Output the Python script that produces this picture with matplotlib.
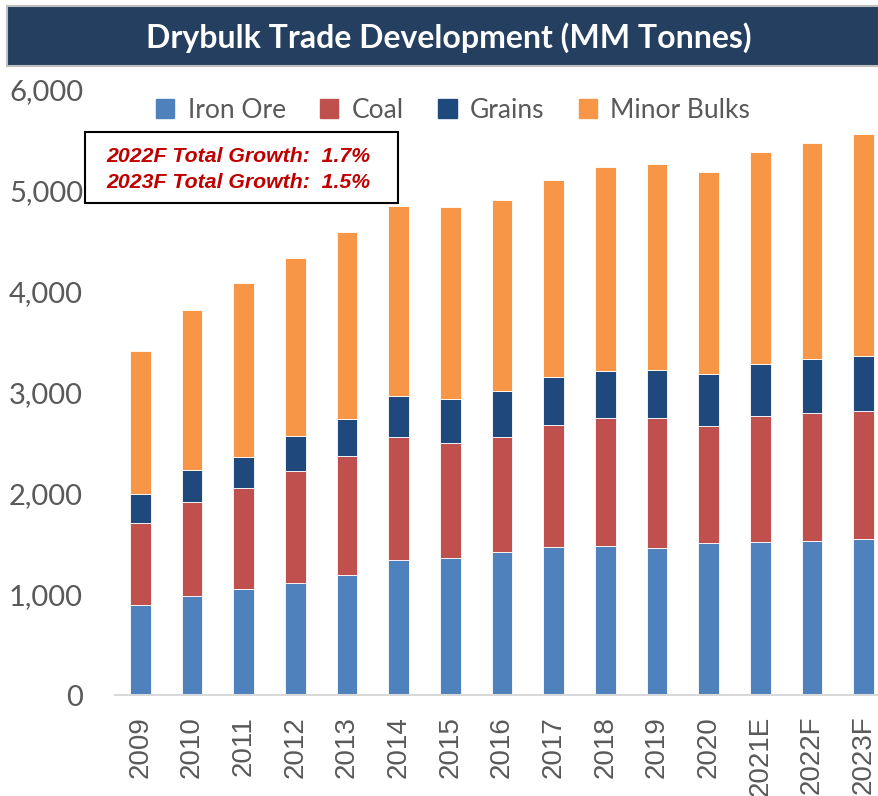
import matplotlib
matplotlib.use("Agg")
import matplotlib.pyplot as plt
from matplotlib.patches import Rectangle
import numpy as np

years = ['2009', '2010', '2011', '2012', '2013', '2014', '2015', '2016',
         '2017', '2018', '2019', '2020', '2021E', '2022F', '2023F']
iron_ore = [890, 985, 1048, 1108, 1187, 1342, 1362, 1416, 1471, 1475, 1455, 1505, 1518, 1531, 1545]
coal = [813, 933, 1002, 1111, 1184, 1214, 1141, 1147, 1211, 1269, 1289, 1167, 1247, 1264, 1272]
grains = [294, 314, 311, 347, 364, 410, 434, 453, 476, 473, 480, 513, 522, 535, 549]
minor_bulks = [1413, 1590, 1726, 1769, 1858, 1882, 1907, 1898, 1948, 2021, 2044, 2000, 2100, 2146, 2193]
series_names = ['Iron Ore', 'Coal', 'Grains', 'Minor Bulks']
colors = ['#4F81BD', '#C0504D', '#1F497D', '#F79646']
y_ticks = [0, 1000, 2000, 3000, 4000, 5000, 6000]
growth_lines = ['2022F Total Growth:  1.7%', '2023F Total Growth:  1.5%']
title = 'Drybulk Trade Development (MM Tonnes)'

W, H = 879, 796
fig = plt.figure(figsize=(W / 100, H / 100), dpi=100)
fig.patch.set_facecolor('white')

def fx(px):
    return px / W

def fy(py):
    return 1 - py / H

ax = fig.add_axes([fx(115), fy(695), 1 - fx(115), fy(90) - fy(695)])
x = np.arange(len(years))
bottom = np.zeros(len(years))
for name, vals, c in zip(series_names, [iron_ore, coal, grains, minor_bulks], colors):
    ax.bar(x, vals, width=0.40, bottom=bottom, color=c, edgecolor='#FFFFFF',
           linewidth=0.6, label=name)
    bottom += np.array(vals)

ax.set_xlim(-0.49, 14.30)
ax.set_ylim(0, 6000)
ax.set_yticks(y_ticks)
ax.set_yticklabels([f'{v:,}' for v in y_ticks], family=['Lato', 'DejaVu Sans'],
                   fontsize=21, color='#595959')
ax.set_xticks(x)
ax.set_xticklabels(years, rotation=90, family=['Liberation Sans', 'DejaVu Sans'],
                   fontsize=20, color='#595959', va='top')
ax.tick_params(axis='y', length=0, pad=23)
ax.tick_params(axis='x', length=0, pad=15)
for s in ['top', 'right', 'left']:
    ax.spines[s].set_visible(False)
ax.spines['bottom'].set_color('#D9D9D9')
ax.spines['bottom'].set_linewidth(1.5)

fig.legend(handles=[Rectangle((0, 0), 1, 1, color=c) for c in colors],
           labels=series_names, loc='center', bbox_to_anchor=(fx(453), fy(110)),
           ncol=4, frameon=False, handlelength=0.7, handleheight=0.7,
           handletextpad=0.5, columnspacing=1.3,
           prop={'family': ['Lato', 'DejaVu Sans'], 'size': 19},
           labelcolor='#595959')

# Title band
fig.patches.append(Rectangle((fx(7), fy(66)), 1 - fx(7), fy(6) - fy(66),
                             transform=fig.transFigure, facecolor='#243F60',
                             edgecolor='#BFBFBF', linewidth=1.5, zorder=0))
fig.text(fx(449), fy(38), title, ha='center', va='center', color='white',
         fontsize=23, fontweight='bold', family=['Lato', 'DejaVu Sans'])

# Annotation box
fig.patches.append(Rectangle((fx(85), fy(203)), fx(398) - fx(85), fy(132) - fy(203),
                             transform=fig.transFigure, facecolor='white',
                             edgecolor='black', linewidth=1.5, zorder=5))
for i, line in enumerate(growth_lines):
    fig.text(fx(106), fy(157 + 26 * i), line, ha='left', va='center', color='#C00000',
             fontsize=15.3, fontweight='bold', fontstyle='italic',
             family=['Liberation Sans', 'DejaVu Sans'], zorder=6)

fig.savefig('out.png', dpi=100, facecolor='white')
